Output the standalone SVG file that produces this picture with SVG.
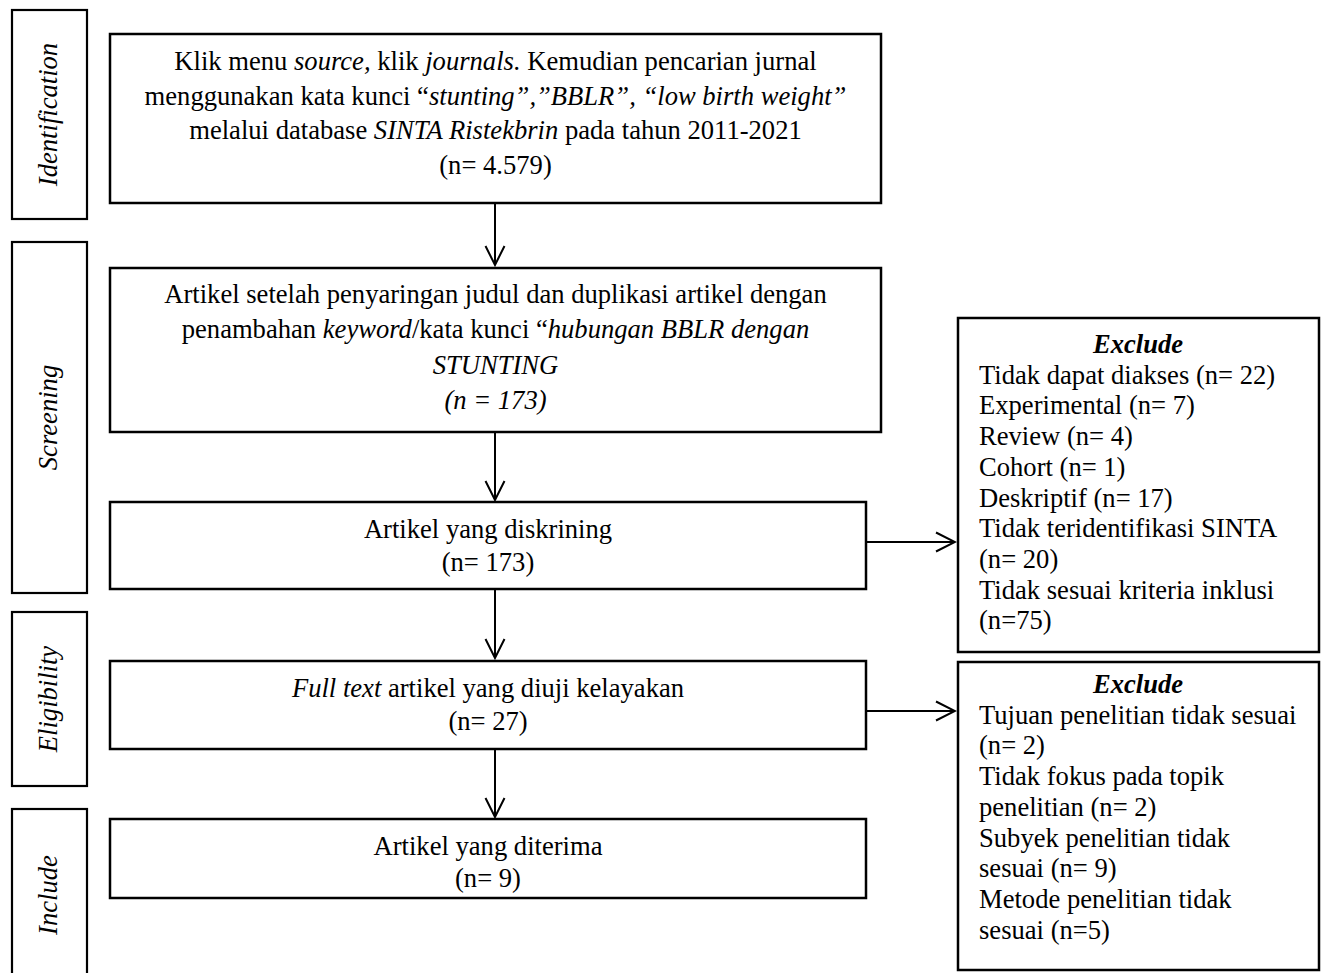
<svg xmlns="http://www.w3.org/2000/svg" width="1321" height="973" viewBox="0 0 1321 973">
<style>
text{font-family:"Liberation Serif","Times New Roman",serif;font-size:26.6px;fill:#000}
.c{text-anchor:middle}
.i{font-style:italic}
.bi{font-style:italic;font-weight:bold}
.box{fill:#fff;stroke:#000;stroke-width:2.5}
.lab{fill:#fff;stroke:#000;stroke-width:2.2}
.conn{fill:none;stroke:#000;stroke-width:2}
</style>
<defs>
<marker id="v" viewBox="0 0 22 22" refX="20" refY="11" markerWidth="22" markerHeight="22" markerUnits="userSpaceOnUse" orient="auto">
<path d="M1,1.5 L20,11 L1,20.5" fill="none" stroke="#000" stroke-width="2"/>
</marker>
</defs>
<rect width="1321" height="973" fill="#fff"/>

<g id="label-identification">
<rect class="lab" x="12" y="10" width="75" height="209"/>
<text class="c i" transform="translate(57,114.5) rotate(-90)">Identification</text>
</g>
<g id="label-screening">
<rect class="lab" x="12" y="242" width="75" height="351"/>
<text class="c i" transform="translate(57,417.5) rotate(-90)">Screening</text>
</g>
<g id="label-eligibility">
<rect class="lab" x="12" y="612" width="75" height="174"/>
<text class="c i" transform="translate(57,699) rotate(-90)">Eligibility</text>
</g>
<g id="label-include">
<rect class="lab" x="12" y="809" width="75" height="180"/>
<text class="c i" transform="translate(57,895) rotate(-90)">Include</text>
</g>

<g id="identification">
<rect class="box" x="110" y="34" width="771" height="169"/>
<text class="c" x="495.5" y="70">Klik menu <tspan class="i">source,</tspan> klik <tspan class="i">journals.</tspan> Kemudian pencarian jurnal</text>
<text class="c" x="495.5" y="104.7">menggunakan kata kunci “<tspan class="i">stunting”,”BBLR”, “low birth weight”</tspan></text>
<text class="c" x="495.5" y="139.3">melalui database <tspan class="i">SINTA Ristekbrin</tspan> pada tahun 2011-2021</text>
<text class="c" x="495.5" y="174">(n= 4.579)</text>
</g>

<g id="screening-title">
<rect class="box" x="110" y="268" width="771" height="164"/>
<text class="c" x="495.5" y="303">Artikel setelah penyaringan judul dan duplikasi artikel dengan</text>
<text class="c" x="495.5" y="338.3">penambahan <tspan class="i">keyword</tspan>/kata kunci “<tspan class="i">hubungan BBLR dengan</tspan></text>
<text class="c i" x="495.5" y="373.7">STUNTING</text>
<text class="c i" x="495.5" y="409">(n = 173)</text>
</g>

<g id="screened">
<rect class="box" x="110" y="502" width="756" height="87"/>
<text class="c" x="488" y="538">Artikel yang diskrining</text>
<text class="c" x="488" y="571">(n= 173)</text>
</g>

<g id="eligibility">
<rect class="box" x="110" y="661" width="756" height="88"/>
<text class="c" x="488" y="697"><tspan class="i">Full text</tspan> artikel yang diuji kelayakan</text>
<text class="c" x="488" y="730">(n= 27)</text>
</g>

<g id="included">
<rect class="box" x="110" y="819" width="756" height="79"/>
<text class="c" x="488" y="855">Artikel yang diterima</text>
<text class="c" x="488" y="887">(n= 9)</text>
</g>

<g id="exclude-1">
<rect class="box" x="958" y="318" width="361" height="334"/>
<text class="c bi" x="1138" y="353">Exclude</text>
<text x="979" y="383.7">Tidak dapat diakses (n= 22)</text>
<text x="979" y="414.4">Experimental (n= 7)</text>
<text x="979" y="445.1">Review (n= 4)</text>
<text x="979" y="475.8">Cohort (n= 1)</text>
<text x="979" y="506.5">Deskriptif (n= 17)</text>
<text x="979" y="537.2">Tidak teridentifikasi SINTA</text>
<text x="979" y="567.9">(n= 20)</text>
<text x="979" y="598.6">Tidak sesuai kriteria inklusi</text>
<text x="979" y="629.3">(n=75)</text>
</g>

<g id="exclude-2">
<rect class="box" x="958" y="662" width="361" height="308"/>
<text class="c bi" x="1138" y="693">Exclude</text>
<text x="979" y="723.7">Tujuan penelitian tidak sesuai</text>
<text x="979" y="754.4">(n= 2)</text>
<text x="979" y="785.1">Tidak fokus pada topik</text>
<text x="979" y="815.8">penelitian (n= 2)</text>
<text x="979" y="846.5">Subyek penelitian tidak</text>
<text x="979" y="877.2">sesuai (n= 9)</text>
<text x="979" y="907.9">Metode penelitian tidak</text>
<text x="979" y="938.6">sesuai (n=5)</text>
</g>

<g id="connectors">
<line class="conn" x1="495" y1="204" x2="495" y2="265" marker-end="url(#v)"/>
<line class="conn" x1="495" y1="433" x2="495" y2="500" marker-end="url(#v)"/>
<line class="conn" x1="495" y1="590" x2="495" y2="658" marker-end="url(#v)"/>
<line class="conn" x1="495" y1="750" x2="495" y2="817" marker-end="url(#v)"/>
<line class="conn" x1="867" y1="542" x2="955" y2="542" marker-end="url(#v)"/>
<line class="conn" x1="867" y1="711" x2="955" y2="711" marker-end="url(#v)"/>
</g>
</svg>
